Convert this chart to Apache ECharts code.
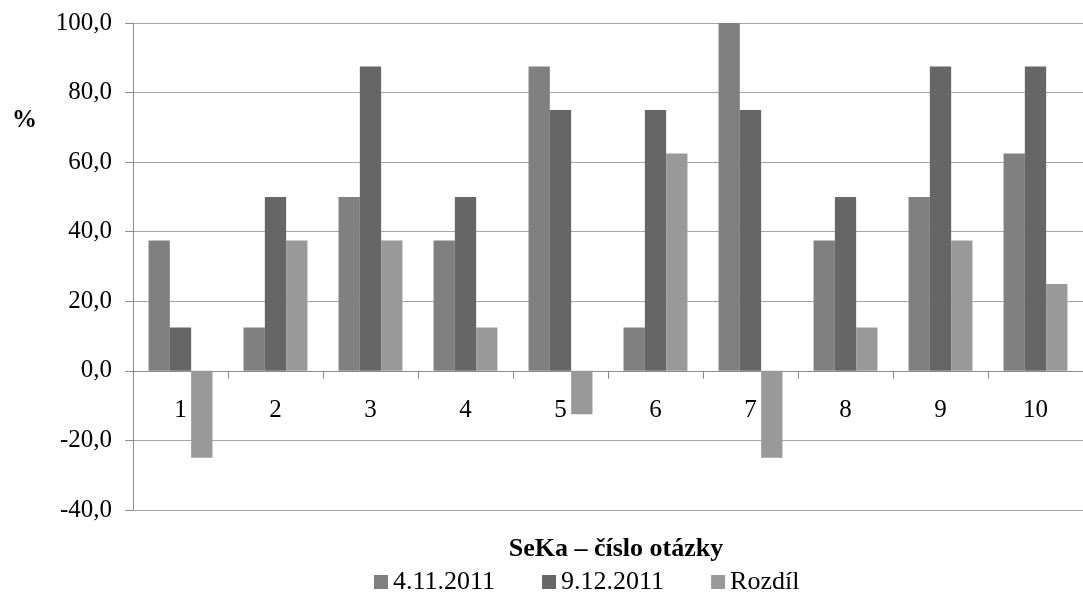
<!DOCTYPE html>
<html>
<head>
<meta charset="utf-8">
<script src="https://cdn.jsdelivr.net/npm/echarts@6/dist/echarts.min.js"></script>
<style>
  html, body { margin: 0; padding: 0; background: #fff; }
  #chart { width: 1083px; height: 596px; }
</style>
</head>
<body>
<div id="chart"></div>
<script>
// Question numbers along the category axis
const categories = ['1', '2', '3', '4', '5', '6', '7', '8', '9', '10'];
// Share of correct answers (%) per survey date, and the difference
const seriesNames = ['4.11.2011', '9.12.2011', 'Rozdíl'];
const first = [37.5, 12.5, 50, 37.5, 87.5, 12.5, 100, 37.5, 50, 62.5];
const second = [12.5, 50, 87.5, 50, 75, 75, 75, 50, 87.5, 87.5];
const diff = [-25, 37.5, 37.5, 12.5, -12.5, 62.5, -25, 12.5, 37.5, 25];
const yTicks = { min: -40, max: 100, step: 20 };

const FONT = '"Liberation Serif", "Times New Roman", serif';
const colors = ['#808080', '#666666', '#999999'];

// plot rectangle
const GRID = { left: 133, top: 23, width: 960, height: 487 };
// the category axis sits on the zero line: shift it up from the bottom edge
const zeroOffset = -((0 - yTicks.min) / (yTicks.max - yTicks.min)) * GRID.height;

const chart = echarts.init(document.getElementById('chart'), null, { renderer: 'canvas' });

const values = [first, second, diff];
const series = values.map((data, i) => ({
  name: seriesNames[i],
  type: 'bar',
  data: data,
  barWidth: 21.3,
  barGap: '0%',
  itemStyle: { color: colors[i] },
  animation: false
}));

chart.setOption({
  animation: false,
  textStyle: { fontFamily: FONT, color: '#000' },
  grid: Object.assign({ containLabel: false }, GRID),
  title: {
    text: 'SeKa – číslo otázky',
    left: 611,
    top: 531,
    textAlign: 'center',
    textStyle: { fontFamily: FONT, fontSize: 26, fontWeight: 'bold', color: '#000' }
  },
  graphic: [{
    type: 'text',
    left: 12,
    top: 108,
    style: { text: '%', font: 'bold 25px ' + FONT, fill: '#000' }
  }],
  legend: {
    data: seriesNames,
    left: 374,
    top: 569,
    padding: 0,
    itemWidth: 14,
    itemHeight: 14,
    itemGap: 47,
    icon: 'rect',
    textStyle: { fontFamily: FONT, fontSize: 26, color: '#000' }
  },
  xAxis: {
    type: 'category',
    data: categories,
    offset: zeroOffset,
    axisLine: { onZero: false, lineStyle: { color: '#8c8c8c', width: 1 } },
    axisTick: { show: true, length: 8, lineStyle: { color: '#8c8c8c' } },
    axisLabel: { margin: 27, fontFamily: FONT, fontSize: 25, color: '#000' },
    splitLine: { show: false }
  },
  yAxis: {
    type: 'value',
    min: yTicks.min,
    max: yTicks.max,
    interval: yTicks.step,
    axisLine: { show: true, lineStyle: { color: '#8c8c8c', width: 1 } },
    axisTick: { show: true, length: 8, lineStyle: { color: '#8c8c8c' } },
    axisLabel: {
      margin: 21,
      fontFamily: FONT,
      fontSize: 25,
      color: '#000',
      formatter: v => v.toFixed(1).replace('.', ',')
    },
    splitLine: { show: true, lineStyle: { color: '#a6a6a6', width: 1 } }
  },
  series: series
});
</script>
</body>
</html>
